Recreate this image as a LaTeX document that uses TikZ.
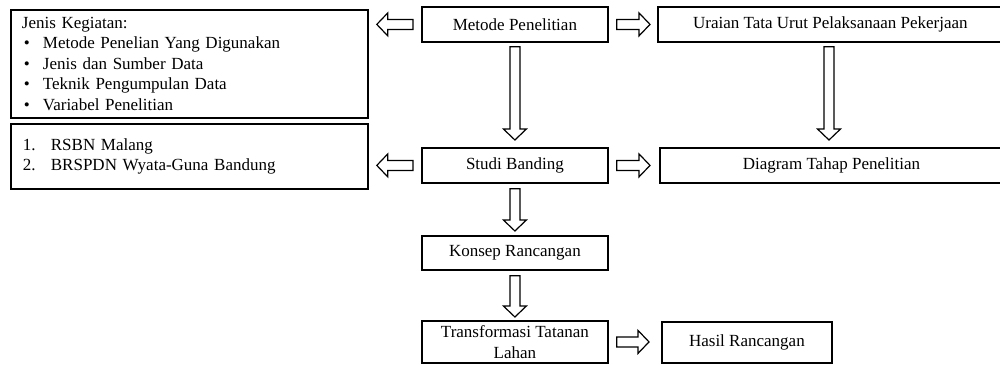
\documentclass[tikz,border=0pt]{standalone}
\usepackage{fontspec}
\setmainfont{Liberation Serif}
\usetikzlibrary{calc}
\tikzset{
  box/.style={draw, line width=1.8pt, inner xsep=0pt, inner ysep=0pt, anchor=north west, align=center},
  listbox/.style={box, align=left},
  blk/.style={draw, line width=1.2pt, fill=white, line join=miter,
    to path={let \p1=(\tikztostart), \p2=(\tikztotarget), \n1={atan2(\y2-\y1,\x2-\x1)} in
      ($(\p1)+(\n1+90:5pt)$)
      -- ($(\p2)+(\n1+180:11pt)+(\n1+90:5pt)$)
      -- ($(\p2)+(\n1+180:11pt)+(\n1+90:11.5pt)$)
      -- (\p2)
      -- ($(\p2)+(\n1+180:11pt)+(\n1-90:11.5pt)$)
      -- ($(\p2)+(\n1+180:11pt)+(\n1-90:5pt)$)
      -- ($(\p1)+(\n1-90:5pt)$) -- cycle}}
}
\newcommand{\bul}{\makebox[21pt][l]{\hspace{2pt}•}}
\newcommand{\num}[1]{\makebox[28pt][l]{#1}}
\begin{document}
\begin{tikzpicture}[x=1pt, y=-1pt, font=\fontsize{17}{20.5}\selectfont]
\useasboundingbox[fill=white] (0,0) rectangle (1000,364);

\node[listbox, text width=335pt, inner xsep=11pt, minimum width=357pt, minimum height=108pt] (jk) at (10,9)
  {Jenis Kegiatan:\\
   \bul Metode Penelian Yang Digunakan\\
   \bul Jenis dan Sumber Data\\
   \bul Teknik Pengumpulan Data\\
   \bul Variabel Penelitian};
\node[listbox, text width=333pt, inner xsep=12pt, minimum width=357pt, minimum height=65pt] (rs) at (10,123)
  {\num{1.}RSBN Malang\\
   \num{2.}BRSPDN Wyata-Guna Bandung};

\node[box, minimum width=186pt, minimum height=35pt] (met) at (421,6) {Metode Penelitian};
\node[box, minimum width=345pt, minimum height=35pt] (ur) at (657,6) {Uraian Tata Urut Pelaksanaan Pekerjaan};
\node[box, minimum width=186pt, minimum height=35pt] (sb) at (421,147) {Studi Banding};
\node[box, minimum width=343pt, minimum height=35pt] (dt) at (659,147) {Diagram Tahap Penelitian};
\node[box, minimum width=186pt, minimum height=34pt] (kr) at (421,235) {Konsep Rancangan};
\node[box, minimum width=186pt, minimum height=42pt] (tf) at (421,320) {Transformasi Tatanan\\Lahan};
\node[box, minimum width=170pt, minimum height=41pt] (hr) at (661,321) {Hasil Rancangan};

\coordinate (ux) at (829,0);

\draw[blk] ([xshift=-8pt]met.west) to ([xshift=8pt]jk.east |- met.west);
\draw[blk] ([xshift=8pt]met.east) to ([xshift=-7pt]ur.west);
\draw[blk] ([yshift=-4pt]met.south) to ([yshift=7pt]sb.north);
\draw[blk] ($(ux |- ur.south)+(0,4)$) to ($(ux |- dt.north)+(0,-7)$);
\draw[blk] ([xshift=-8pt]sb.west) to ([xshift=8pt]rs.east |- sb.west);
\draw[blk] ([xshift=8pt]sb.east) to ([xshift=-9pt]dt.west);
\draw[blk] ([yshift=-5pt]sb.south) to ([yshift=4pt]kr.north);
\draw[blk] ([yshift=-5pt]kr.south) to ([yshift=3pt]tf.north);
\draw[blk] ([xshift=8pt]tf.east) to ([xshift=-12pt]hr.west |- tf.east);
\end{tikzpicture}
\end{document}
